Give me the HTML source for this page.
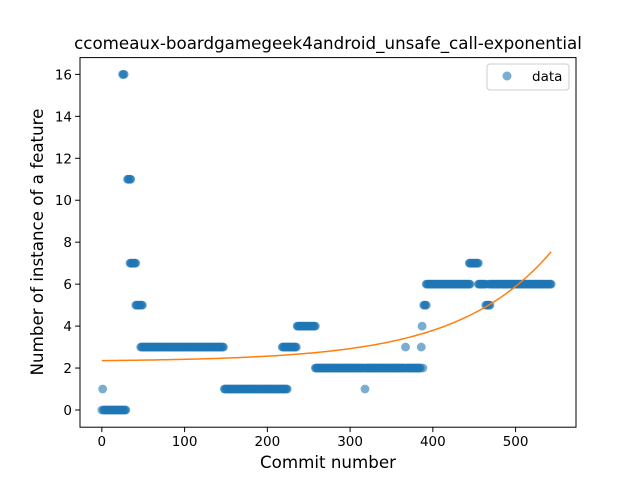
<!DOCTYPE html>
<html><head><meta charset="utf-8"><style>
body{margin:0;background:#fff;}
svg text{font-family:"DejaVu Sans","Liberation Sans",sans-serif;fill:#000;}
</style></head><body>
<svg id="chart" width="640" height="480" viewBox="0 0 640 480">
<rect width="640" height="480" fill="#fff"/>
<text x="328" y="49" font-size="16.7" text-anchor="middle">ccomeaux-boardgamegeek4android_unsafe_call-exponential</text>
<g id="plot"></g>
<rect x="80" y="57.6" width="496" height="369.6" fill="none" stroke="#000" stroke-width="1"/>
<text x="328" y="468" font-size="16.7" text-anchor="middle">Commit number</text>
<text transform="translate(43,242) rotate(-90)" font-size="16.7" text-anchor="middle">Number of instance of a feature</text>
<g>
<rect x="487" y="64" width="82" height="26" rx="3" fill="#fff" stroke="#ccc"/>
<circle cx="507" cy="76" r="4.5" fill="#1f77b4" fill-opacity="0.6"/>
<text x="532" y="81" font-size="13.5">data</text>
</g>
</svg>
<script>
// Data as runs of consecutive commits: start, end, value
const segStart = [0, 1, 2, 25, 31, 34, 41, 47, 148, 218, 236, 258, 318, 319, 367, 368, 386, 387, 388, 389, 392, 444, 455, 464, 468];
const segEnd   = [0, 1, 29, 27, 35, 41, 49, 147, 224, 235, 258, 317, 318, 366, 367, 385, 386, 387, 388, 392, 445, 455, 464, 469, 543];
const segValue = [0, 1, 0, 16, 11, 7, 5, 3, 1, 3, 4, 2, 1, 2, 3, 2, 3, 4, 2, 5, 6, 7, 6, 5, 6];
const fitParams = [2.31, 0.044, 0.0088]; // c, a, b : y = c + a*exp(b*x)
const fitRange = [0, 543];
const xTicks = [0, 100, 200, 300, 400, 500];
const yTicks = [0, 2, 4, 6, 8, 10, 12, 14, 16];

const L=80,R=576,T=57.6,B=427.2;
const xMin=-26.4,xMax=573,yMin=-0.82,yMax=16.8;
const sx=v=>L+(v-xMin)/(xMax-xMin)*(R-L);
const sy=v=>B-(v-yMin)/(yMax-yMin)*(B-T);
const NS="http://www.w3.org/2000/svg";
const plot=document.getElementById('plot');
function mk(tag,attrs,parent){const e=document.createElementNS(NS,tag);for(const k in attrs)e.setAttribute(k,attrs[k]);(parent||plot).appendChild(e);return e;}

xTicks.forEach(t=>{
  const g=mk('g',{});
  
  
  mk('line',{x1:sx(t),x2:sx(t),y1:B,y2:B+4.9,stroke:'#000'},g);
  const tx=mk('text',{x:sx(t),y:B+19,'font-size':'13.5','text-anchor':'middle'},g);tx.textContent=t;
});
yTicks.forEach(t=>{
  const g=mk('g',{});
  
  
  mk('line',{x1:L-4.9,x2:L,y1:sy(t),y2:sy(t),stroke:'#000'},g);
  const tx=mk('text',{x:L-8,y:sy(t)+5,'font-size':'13.5','text-anchor':'end'},g);tx.textContent=t;
});

const pts=mk('g',{});


for(let s=0;s<segStart.length;s++){
  for(let x=segStart[s];x<=segEnd[s];x++){
    const c=mk('circle',{cx:sx(x),cy:sy(segValue[s]),r:4.4,fill:'#1f77b4','fill-opacity':0.6},pts);
    
    
  }
}
let d='';
for(let x=fitRange[0];x<=fitRange[1];x+=3){
  const y=fitParams[0]+fitParams[1]*Math.exp(fitParams[2]*x);
  d+=(d?'L':'M')+sx(x).toFixed(2)+','+sy(y).toFixed(2);
}
const ln=mk('path',{d:d,fill:'none',stroke:'#ff7f0e','stroke-width':1.5});


</script>
</body></html>
